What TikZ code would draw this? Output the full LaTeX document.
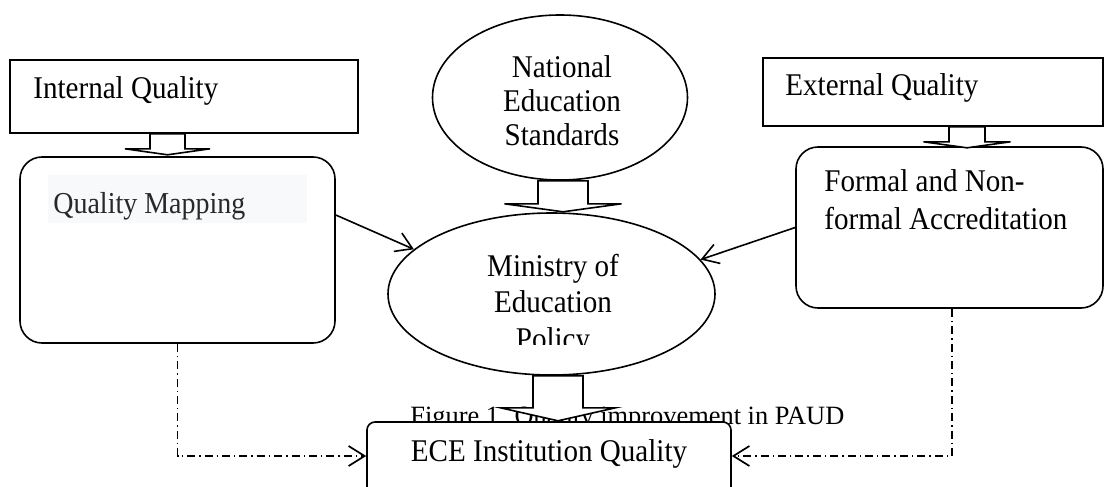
\documentclass[tikz,border=0pt]{standalone}
\usepackage{fontspec}
\setmainfont[FakeStretch=0.92]{Liberation Serif}
\newfontfamily\capfont{Liberation Serif}
\definecolor{qmgray}{RGB}{248,249,250}
\definecolor{qmtext}{RGB}{40,40,40}
\usetikzlibrary{arrows.meta,positioning,shapes.geometric,calc}

% hollow block arrow: top point, shaft half width, head half width, shaft length, head length
\newcommand{\fatarrow}[5]{%
  \begin{scope}[shift={(#1)}]
    \draw[fatarr] (-#2,0) -- (-#2,#4) -- (-#3,#4) -- (0,{#4+#5}) -- (#3,#4) -- (#2,#4) -- (#2,0) -- cycle;
  \end{scope}}

\begin{document}
\begin{tikzpicture}[x=0.5pt, y=-0.5pt,
    font=\fontsize{15.8}{17.5}\selectfont,
    sqbox/.style={rectangle, draw, line width=0.8pt, fill=white, inner sep=0pt},
    rndbox/.style={rectangle, rounded corners=11pt, draw, line width=0.8pt, fill=white, inner sep=0pt},
    oval/.style={ellipse, draw, line width=0.8pt, fill=white, inner sep=0pt, align=center},
    txt/.style={inner sep=0pt, align=left},
    fatarr/.style={draw, line width=0.8pt, fill=white, line join=miter},
    thinarr/.style={line width=0.8pt, -{Straight Barb[length=8pt, width=10pt]}},
    dasharr/.style={line width=0.85pt, dash pattern=on 4pt off 2pt on 0.7pt off 2pt,
      -{Straight Barb[length=8pt, width=10pt]}}
  ]
    \useasboundingbox (0,0) rectangle (1104,487);

    % top row
    \node[sqbox, minimum width=174pt, minimum height=36.5pt] (intq) at (184,96.5) {};
    \node[txt, anchor=west] (intq-t) at (33,91) {Internal Quality};
    \node[oval, minimum width=127.5pt, minimum height=82.5pt] (nes) at (560,97.5) {};
    \node[txt, align=center, font=\fontsize{15.8}{17}\selectfont] (nes-t) at (562,101)
      {National\\Education\\Standards};
    \node[sqbox, minimum width=170pt, minimum height=34pt] (extq) at (933,92) {};
    \node[txt, anchor=west] (extq-t) at (785,88) {External Quality};

    % middle row
    \node[rndbox, minimum width=157.5pt, minimum height=93pt] (qmap) at (177.5,250) {};
    \node[fill=qmgray, inner sep=0pt, minimum width=129.5pt, minimum height=24pt] (qmap-bg) at (177.5,199) {};
    \node[txt, anchor=west, text=qmtext, font=\fontsize{15.2}{16}\selectfont] (qmap-t) at (53,206)
      {Quality Mapping};
    \node[oval, minimum width=163.5pt, minimum height=81pt] (mop) at (551.5,294) {};
    \begin{scope}
      \clip (380,200) rectangle (720,344);
      \node[txt, align=center, font=\fontsize{15.8}{18.2}\selectfont] (mop-t) at (553,305)
        {Ministry of\\Education\\Policy};
    \end{scope}
    \node[rndbox, minimum width=153.5pt, minimum height=80.5pt] (fna) at (949.5,227.5) {};
    \node[txt, anchor=north west, font=\fontsize{15.8}{19}\selectfont] (fna-t) at (824,169)
      {Formal and Non-\\formal Accreditation};

    % caption sits behind the bottom box
    \node[txt, anchor=base west, font=\capfont\fontsize{13.2}{16}\selectfont] (cap) at (410,424)
      {Figure 1. Quality improvement in PAUD};
    \node[rndbox, rounded corners=4pt, minimum width=182pt, minimum height=39pt] (ece) at (549,461) {};
    \node[txt] (ece-t) at (549,454) {ECE Institution Quality};

    % block arrows
    \coordinate (a1) at ($(intq.south)+(-16.5,0)$);
    \coordinate (a2) at ($(nes.south)+(3,0)$);
    \coordinate (a3) at ($(extq.south)+(34,0)$);
    \coordinate (a4) at ($(mop.south)+(6.5,0)$);
    \fatarrow{a1}{17.5}{42.5}{15}{6}
    \fatarrow{a2}{25}{58.5}{23}{8}
    \fatarrow{a3}{18}{43.5}{15}{6}
    \fatarrow{a4}{25}{57.5}{32}{13}

    % connectors
    \draw[thinarr] ($(qmap.east)+(0,-35)$) -- (mop.162);
    \draw[thinarr] (fna.west) -- (mop.13);
    \coordinate (ece-l) at ($(ece.west)+(0,-5)$);
    \coordinate (ece-r) at ($(ece.east)+(0,-5)$);
    \draw[dasharr] (qmap.south) |- (ece-l);
    \draw[dasharr] ($(fna.south)+(2.5,0)$) |- (ece-r);
  \end{tikzpicture}
\end{document}
